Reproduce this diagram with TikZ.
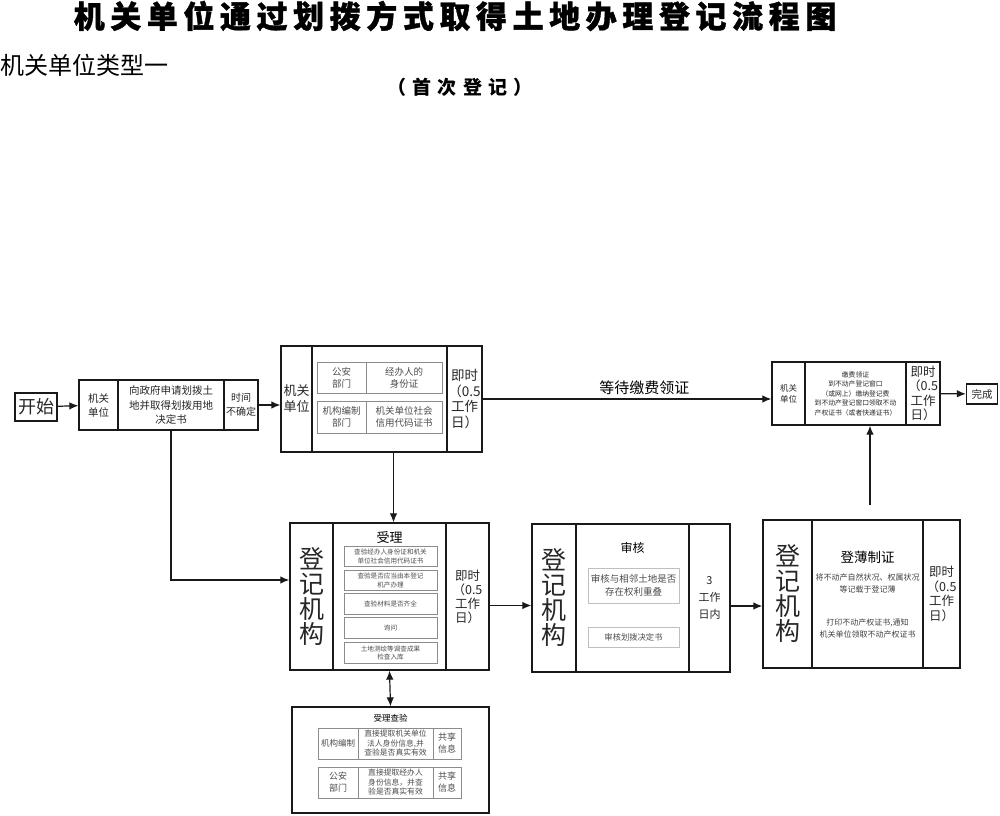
\documentclass[tikz,border=0pt]{standalone}
\usepackage{fontspec}
\setmainfont{Noto Sans CJK SC}
\newfontfamily\titlefont{Noto Sans CJK SC}[LetterSpace=18, FakeBold=1.2]
\newfontfamily\subfont{Noto Sans CJK SC}[LetterSpace=32]
\usepackage{tikz}
\usetikzlibrary{arrows.meta}
\definecolor{frame}{rgb}{0.1, 0.1, 0.1}
\definecolor{ingray}{rgb}{0.55, 0.55, 0.55}
\definecolor{ltgray}{rgb}{0.75, 0.75, 0.75}
\newcommand\setfs[2]{\fontsize{#1}{#2}\selectfont}
\newcommand\instant{即时\\（0.5\\工作\\日）}
\tikzset{cell/.style = {draw=frame, line width=1.3, inner sep=0, align=center, text=black!85}}
\tikzset{inbox/.style = {draw=ingray, line width=0.8, inner sep=0, align=center, text=black!70}}
\tikzset{arr/.style = {-{Latex[length=9pt, width=7.5pt]}, line width=1.2, draw=frame}}
\tikzset{tall/.style = {font=\setfs{25}{25}}}

\begin{document}
\begin{tikzpicture}[x=1pt, y=-1pt]
    \useasboundingbox (0, 0) rectangle (1000, 815);

    \node [font=\titlefont\bfseries\setfs{31}{34}] (title) at (455, 16) {机关单位通过划拨方式取得土地办理登记流程图};
    \node [anchor=west, inner sep=0, font=\setfs{24}{26}] (kind) at (0, 65) {机关单位类型一};
    \node [font=\subfont\bfseries\setfs{19}{21}] (first) at (460, 87) {（首次登记）};

    \node [cell, minimum width=42, minimum height=28, font=\setfs{18}{20}] (start) at (36, 407) {开始};

    \node [cell, minimum width=39, minimum height=50, font=\setfs{10.5}{14}] (a1) at (98.5, 405) {机关\\单位};
    \node [cell, minimum width=106, minimum height=50, font=\setfs{10.5}{14.5}] (a2) at (171, 405) {向政府申请划拨土\\地并取得划拨用地\\决定书};
    \node [cell, minimum width=34, minimum height=50, font=\setfs{10}{14}] (a3) at (241, 405) {时间\\不确定};

    \node [cell, minimum width=31, minimum height=106, font=\setfs{13}{16}] (b1) at (296.5, 399) {机关\\单位};
    \node [cell, minimum width=135, minimum height=106] (b2) at (379.5, 399) {};
    \node [cell, minimum width=35, minimum height=106, font=\setfs{13.5}{15.5}] (b3) at (464.5, 399) {\instant};
    \node [inbox, minimum width=49, minimum height=31, font=\setfs{9.5}{12}] (b11) at (341.5, 377.5) {公安\\部门};
    \node [inbox, minimum width=76, minimum height=31, font=\setfs{9.5}{12}] (b12) at (404, 377.5) {经办人的\\身份证};
    \node [inbox, minimum width=49, minimum height=32, font=\setfs{9.5}{12}] (b21) at (341.5, 417) {机构编制\\部门};
    \node [inbox, minimum width=76, minimum height=32, font=\setfs{9.5}{12}] (b22) at (404, 417) {机关单位社会\\信用代码证书};

    \node [cell, minimum width=33, minimum height=63, font=\setfs{8.5}{11}] (c1) at (788.5, 393.5) {机关\\单位};
    \node [cell, minimum width=101, minimum height=63, font=\setfs{6.8}{9.5}] (c2) at (855.5, 393.5) {缴费领证\\到不动产登记窗口\\（或网上）缴纳登记费\\到不动产登记窗口领取不动\\产权证书（或者快递证书）};
    \node [cell, minimum width=34, minimum height=63, font=\setfs{12.5}{14.5}] (c3) at (923, 393.5) {\instant};
    \node [cell, minimum width=31, minimum height=20, font=\setfs{10.5}{12}] (done) at (982, 394) {完成};

    \node [cell, minimum width=43, minimum height=147, tall] (d1) at (311.5, 596.5) {登\\记\\机\\构};
    \node [cell, minimum width=113, minimum height=147] (d2) at (389.5, 596.5) {};
    \node [cell, minimum width=43, minimum height=147, font=\setfs{12.5}{14}] (d3) at (467.5, 596.5) {\instant};
    \node [font=\setfs{13}{14}] (accept) at (389.5, 537) {受理};
    \foreach \y/\txt [count=\i] in {556.5/{查验经办人身份证和机关\\单位社会信用代码证书},
                                    580.5/{查验是否应当由本登记\\机产办理},
                                    604/{查验材料是否齐全},
                                    628/{询问},
                                    653/{土地测绘等调查成果\\检查入库}} {
      \node [inbox, minimum width=93, minimum height=20.5, font=\setfs{6.6}{8.3}] (chk\i) at (390.5, \y) {\txt};
    }

    \node [cell, minimum width=44, minimum height=148, tall] (e1) at (554, 598) {登\\记\\机\\构};
    \node [cell, minimum width=113, minimum height=148] (e2) at (632.5, 598) {};
    \node [cell, minimum width=41, minimum height=148, font=\setfs{11}{17}] (e3) at (709.5, 598) {3\\工作\\日内};
    \node [font=\setfs{12}{14}] (check) at (632.5, 548) {审核};
    \node [inbox, draw=ltgray, minimum width=91, minimum height=35, font=\setfs{9.5}{13}] (e21) at (633.5, 585.5) {审核与相邻土地是否\\存在权利重叠};
    \node [inbox, draw=ltgray, minimum width=91, minimum height=20, font=\setfs{8.3}{10}] (e22) at (633.5, 637) {审核划拨决定书};

    \node [cell, minimum width=49, minimum height=148, tall] (f1) at (787.5, 594) {登\\记\\机\\构};
    \node [cell, minimum width=111, minimum height=148] (f2) at (867.5, 594) {};
    \node [cell, minimum width=37, minimum height=148, font=\setfs{12.5}{14.5}] (f3) at (941.5, 594) {\instant};
    \node [font=\setfs{13.5}{15}] (book) at (867.5, 557) {登薄制证};
    \node [align=center, text=black!75, font=\setfs{8}{12}] (book1) at (867.5, 583) {将不动产自然状况、权属状况\\等记载于登记薄};
    \node [align=center, text=black!75, font=\setfs{8}{12}] (book2) at (867.5, 628) {打印不动产权证书,通知\\机关单位领取不动产权证书};

    \node [cell, minimum width=197, minimum height=106] (g) at (390.5, 760) {};
    \node [font=\setfs{8.5}{10}] (verify) at (390.5, 718) {受理查验};
    \node [inbox, minimum width=40, minimum height=31, font=\setfs{8.5}{11}] (g11) at (338, 743.5) {机构编制};
    \node [inbox, minimum width=75, minimum height=31, font=\setfs{7.8}{9.5}] (g12) at (395.5, 743.5) {直接提取机关单位\\法人身份信息,并\\查验是否真实有效};
    \node [inbox, minimum width=28, minimum height=31, font=\setfs{9}{12}] (g13) at (447, 743.5) {共享\\信息};
    \node [inbox, minimum width=40, minimum height=31, font=\setfs{9}{12}] (g21) at (338, 782.5) {公安\\部门};
    \node [inbox, minimum width=75, minimum height=31, font=\setfs{7.8}{9.5}] (g22) at (395.5, 782.5) {直接提取经办人\\身份信息，并查\\验是否真实有效};
    \node [inbox, minimum width=28, minimum height=31, font=\setfs{9}{12}] (g23) at (447, 782.5) {共享\\信息};

    \draw [arr] (start) -- (a1);
    \draw [arr] (a3.east) -- (a3.east -| b1.west);
    \draw [arr] (b3.east) -- (b3.east -| c1.west) node [pos=0.56, above, font=\setfs{15}{16}] (wait) {等待缴费领证};
    \draw [arr] (c3) -- (done);
    \draw [arr] ([xshift=14pt]b2.south) -- ([xshift=14pt]b2.south |- d2.north);
    \draw [arr] (a2.south) |- ([yshift=16.5pt]d1.west);
    \draw [arr] ([yshift=-9pt]d3.east) -- ([yshift=-9pt]d3.east -| e1.west);
    \draw [arr] ([yshift=-8pt]e3.east) -- ([yshift=-8pt]e3.east -| f1.west);
    \draw [arr, shorten <=14pt] ([xshift=2.5pt]f2.north) -- ([xshift=2.5pt]f2.north |- c2.south);
    \draw [arr, {Latex[length=9pt, width=7.5pt]}-{Latex[length=9pt, width=7.5pt]}] (d2.south) -- (g.north);
  \end{tikzpicture}
\end{document}
